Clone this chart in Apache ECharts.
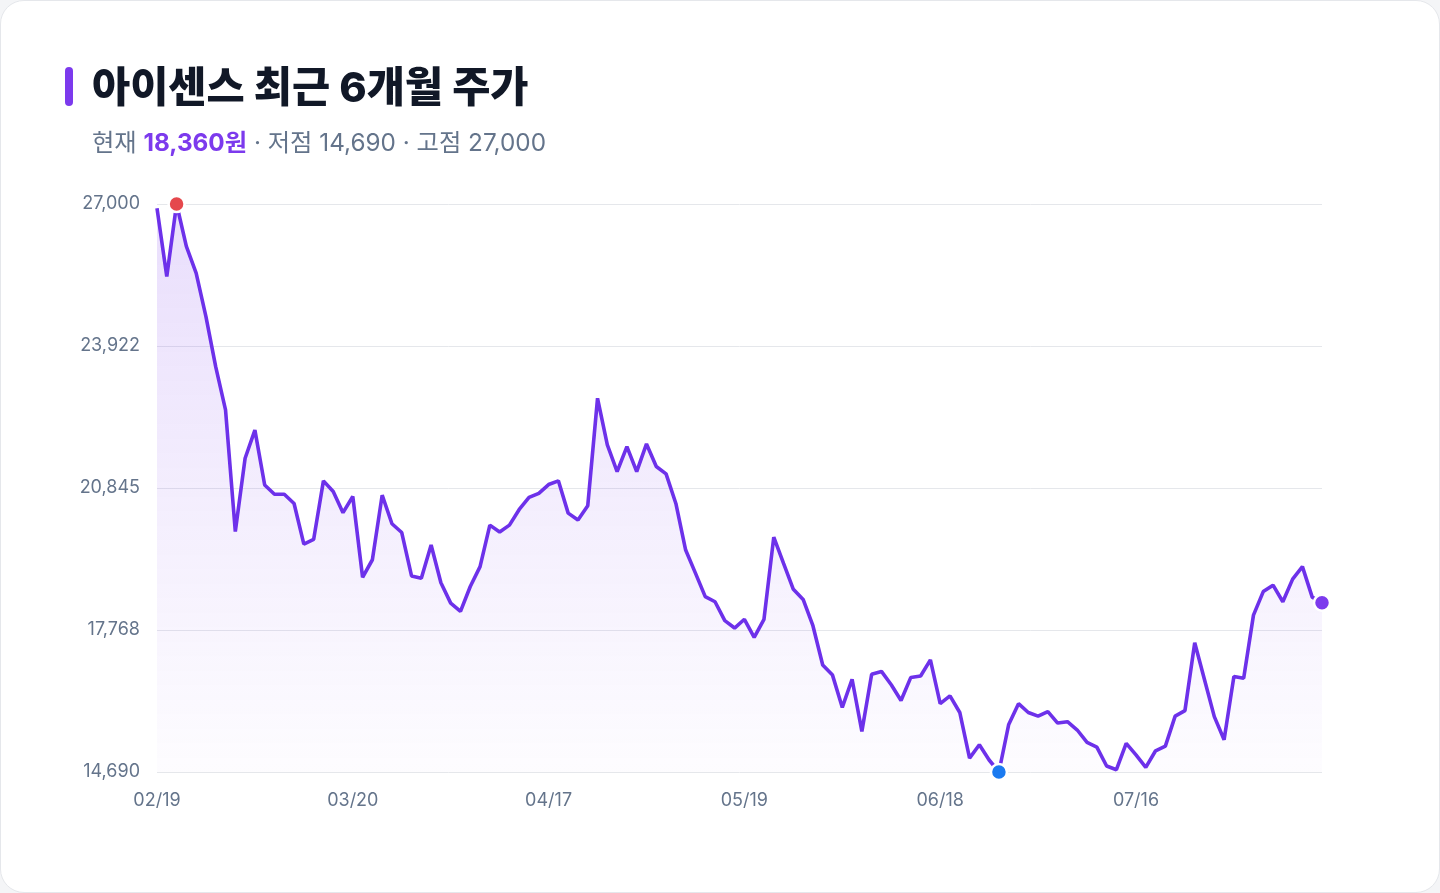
<!DOCTYPE html>
<html lang="ko">
<head>
<meta charset="utf-8">
<title>아이센스 최근 6개월 주가</title>
<script src="https://cdn.jsdelivr.net/npm/echarts@6/dist/echarts.min.js"></script>
<style>
    html, body { margin: 0; padding: 0; background: #f4f5f7; }
    .card {
        position: absolute; left: 0; top: 0; width: 1440px; height: 893px;
        box-sizing: border-box; background: #fff;
        border: 1px solid #e5e7eb; border-radius: 24px;
    }
    #chart { position: absolute; left: 0; top: 0; width: 1440px; height: 893px; }
</style>
</head>
<body>
<div class="card"></div>
<div id="chart"></div>
<script>
// 아이센스 최근 6개월 주가 (일별 종가)

var dates = [
    '02/19', '02/20', '02/21', '02/24', '02/25', '02/26', '02/27', '02/28', '03/04', '03/05',
    '03/06', '03/07', '03/10', '03/11', '03/12', '03/13', '03/14', '03/17', '03/18', '03/19',
    '03/20', '03/21', '03/24', '03/25', '03/26', '03/27', '03/28', '03/31', '04/01', '04/02',
    '04/03', '04/04', '04/07', '04/08', '04/09', '04/10', '04/11', '04/14', '04/15', '04/16',
    '04/17', '04/18', '04/21', '04/22', '04/23', '04/24', '04/25', '04/28', '04/29', '04/30',
    '05/01', '05/02', '05/07', '05/08', '05/09', '05/12', '05/13', '05/14', '05/15', '05/16',
    '05/19', '05/20', '05/21', '05/22', '05/23', '05/26', '05/27', '05/28', '05/29', '05/30',
    '06/02', '06/04', '06/05', '06/09', '06/10', '06/11', '06/12', '06/13', '06/16', '06/17',
    '06/18', '06/19', '06/20', '06/23', '06/24', '06/25', '06/26', '06/27', '06/30', '07/01',
    '07/02', '07/03', '07/04', '07/07', '07/08', '07/09', '07/10', '07/11', '07/14', '07/15',
    '07/16', '07/17', '07/18', '07/21', '07/22', '07/23', '07/24', '07/25', '07/28', '07/29',
    '07/30', '07/31', '08/01', '08/04', '08/05', '08/06', '08/07', '08/08', '08/11', '08/12'
];

var prices = [
    26910, 25430, 27000, 26080, 25500, 24560, 23470, 22540, 19900, 21490,
    22100, 20910, 20710, 20710, 20510, 19630, 19730, 21000, 20770, 20310,
    20660, 18910, 19290, 20690, 20070, 19880, 18940, 18890, 19610, 18790,
    18350, 18170, 18710, 19140, 20040, 19890, 20040, 20380, 20640, 20730,
    20920, 21000, 20300, 20150, 20460, 22790, 21780, 21200, 21740, 21200,
    21800, 21310, 21150, 20510, 19500, 19000, 18490, 18380, 17970, 17810,
    18000, 17610, 18000, 19780, 19210, 18650, 18430, 17860, 17010, 16790,
    16090, 16700, 15570, 16810, 16870, 16580, 16240, 16740, 16770, 17120,
    16170, 16340, 15980, 14990, 15280, 14950, 14690, 15720, 16170, 15980,
    15900, 16000, 15750, 15780, 15600, 15330, 15230, 14820, 14740, 15310,
    15060, 14790, 15150, 15250, 15900, 16020, 17490, 16690, 15890, 15390,
    16760, 16720, 18090, 18600, 18740, 18380, 18870, 19140, 18480, 18360
];

// y축 눈금 (저점 ~ 고점 4등분)
var yTickValues = [14690, 17767.5, 20845, 23922.5, 27000];
var yTickLabels = ['14,690', '17,768', '20,845', '23,922', '27,000'];

var fontFamily = "Inter, 'Noto Sans CJK KR', sans-serif";

var maxVal = Math.max.apply(null, prices);
var minVal = Math.min.apply(null, prices);
var maxIdx = prices.indexOf(maxVal);
var minIdx = prices.indexOf(minVal);
var lastIdx = prices.length - 1;

function fmt(n) {
    return n.toLocaleString('en-US');
}

var chart = echarts.init(document.getElementById('chart'), null, { renderer: 'canvas' });

var option = {
    backgroundColor: 'transparent',
    animation: false,
    title: [{
        text: '아이센스 최근 6개월 주가',
        left: 87,
        top: 60,
        textStyle: {
            fontFamily: fontFamily,
            fontSize: 41.5,
            fontWeight: 800,
            color: '#111827',
            lineHeight: 50
        }
    }, {
        text: '{g|현재 }{p|' + fmt(prices[lastIdx]) + '원}{g| · 저점 ' + fmt(minVal) + ' · 고점 ' + fmt(maxVal) + '}',
        left: 87,
        top: 124,
        textStyle: {
            fontWeight: 'normal',
            rich: {
                g: { fontFamily: fontFamily, fontSize: 24.3, fontWeight: 'normal', color: '#64748b', lineHeight: 30 },
                p: { fontFamily: fontFamily, fontSize: 24.3, fontWeight: 700, color: '#7c3aed', lineHeight: 30 }
            }
        }
    }],
    graphic: [{
        type: 'rect',
        shape: { x: 65, y: 67, width: 8, height: 39, r: 4 },
        style: { fill: '#7c3aed' }
    }],
    grid: {
        left: 157,
        right: 118,
        top: 204,
        bottom: 121
    },
    xAxis: {
        type: 'category',
        data: dates,
        boundaryGap: false,
        axisLine: { show: false },
        axisTick: { show: false },
        axisLabel: {
            interval: 19,
            margin: 20,
            fontFamily: fontFamily,
            fontSize: 18,
            color: '#64748b'
        },
        splitLine: { show: false }
    },
    yAxis: {
        type: 'value',
        min: minVal,
        max: maxVal,
        axisLine: { show: false },
        axisTick: { show: false, customValues: yTickValues },
        axisLabel: {
            customValues: yTickValues,
            margin: 17,
            padding: [3, 0, 0, 0],
            fontFamily: fontFamily,
            fontSize: 18,
            color: '#64748b',
            formatter: function (v) {
                var i = yTickValues.indexOf(v);
                return i >= 0 ? yTickLabels[i] : fmt(Math.round(v));
            }
        },
        splitLine: {
            show: true,
            lineStyle: { color: '#e5e7eb', width: 1 }
        }
    },
    series: [{
        name: '주가',
        type: 'line',
        data: prices,
        symbol: 'none',
        lineStyle: { color: '#6d31ea', width: 3.6 },
        areaStyle: {
            color: new echarts.graphic.LinearGradient(0, 0, 0, 1, [
                { offset: 0, color: 'rgba(124, 58, 237, 0.24)' },
                { offset: 1, color: 'rgba(124, 58, 237, 0.02)' }
            ])
        },
        z: 2
    }, {
        name: '표시',
        type: 'scatter',
        symbol: 'circle',
        symbolSize: 16,
        data: [
            { value: [maxIdx, maxVal], itemStyle: { color: '#e5484d' } },
            { value: [minIdx, minVal], itemStyle: { color: '#1a7af0' } },
            { value: [lastIdx, prices[lastIdx]], itemStyle: { color: '#7c3aed' } }
        ],
        itemStyle: { borderColor: '#ffffff', borderWidth: 2.5, opacity: 1 },
        z: 5
    }]
};

chart.setOption(option);
</script>
</body>
</html>
